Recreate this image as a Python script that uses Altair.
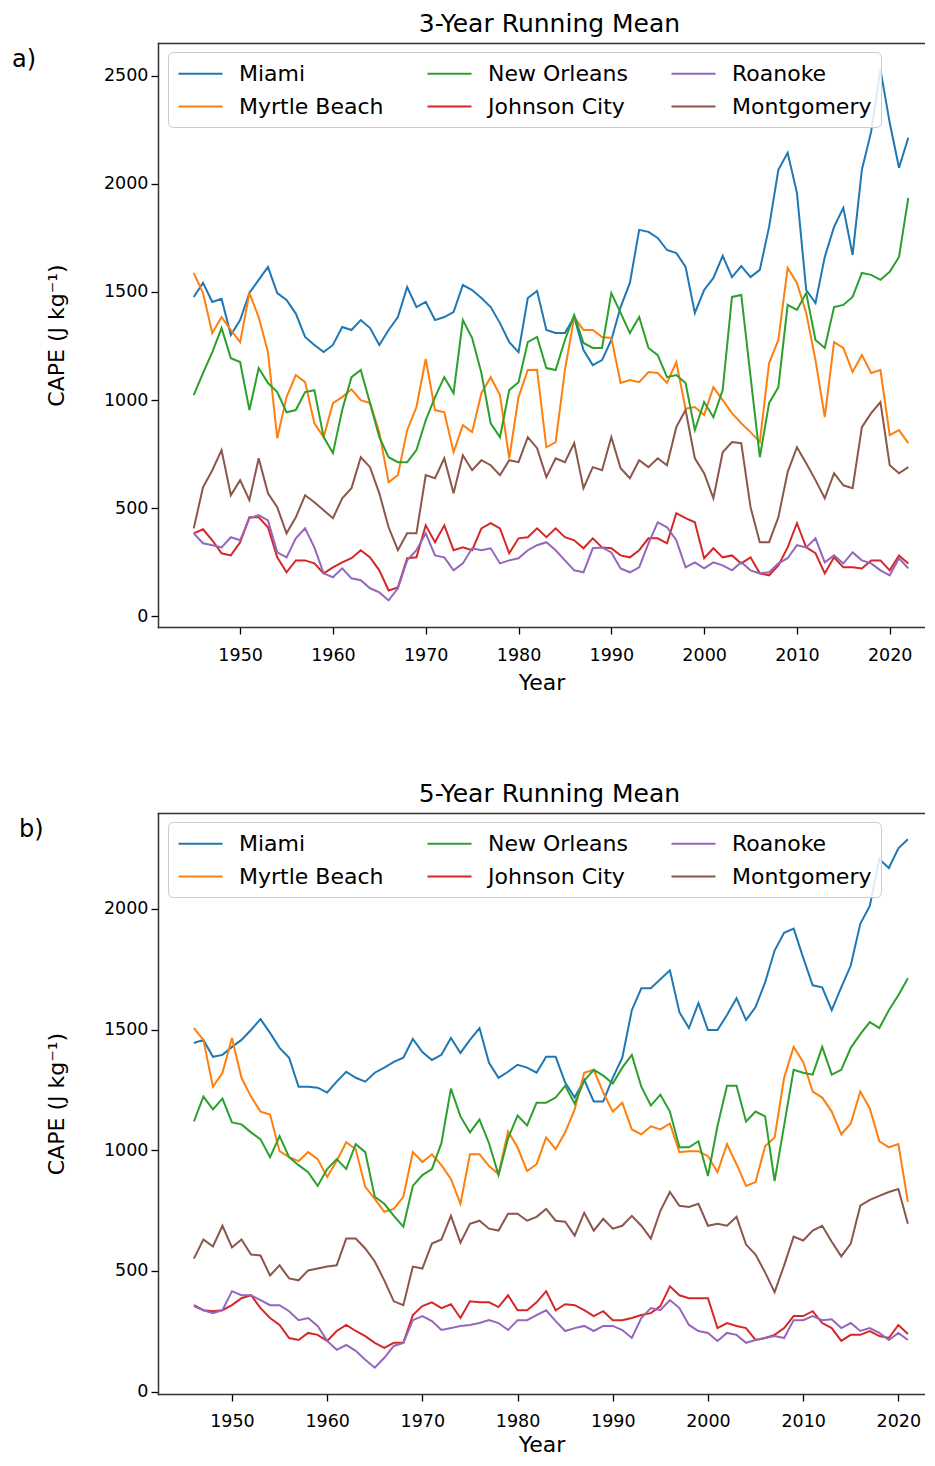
import altair as alt
import pandas as pd

FONT = "DejaVu Sans"

# ---------------- data ----------------
cities = ["Miami", "Myrtle Beach", "New Orleans", "Johnson City", "Roanoke", "Montgomery"]
legend_order = ["Miami", "New Orleans", "Roanoke", "Myrtle Beach", "Johnson City", "Montgomery"]
legend_colors = ["#1f77b4", "#2ca02c", "#9467bd", "#ff7f0e", "#d62728", "#8c564b"]

x_ticks = [1950, 1960, 1970, 1980, 1990, 2000, 2010, 2020]
y_ticks_a = [0, 500, 1000, 1500, 2000, 2500]
y_ticks_b = [0, 500, 1000, 1500, 2000]
panel_labels = ["a)", "b)"]
panel_titles = ["3-Year Running Mean", "5-Year Running Mean"]

years_a = list(range(1945, 2023))
years_b = list(range(1946, 2022))

miami_a = [1477, 1542, 1454, 1468, 1301, 1370, 1495, 1556, 1616, 1495,
           1463, 1400, 1292, 1255, 1222, 1255, 1338, 1324, 1370, 1333,
           1255, 1324, 1384, 1523, 1430, 1454, 1370, 1384, 1407, 1532,
           1509, 1472, 1430, 1356, 1268, 1222, 1472, 1505, 1324, 1310,
           1310, 1384, 1231, 1162, 1185, 1278, 1430, 1542, 1787, 1778,
           1750, 1694, 1680, 1616, 1403, 1509, 1565, 1667, 1569, 1620,
           1569, 1602, 1801, 2065, 2143, 1958, 1509, 1449, 1662, 1801,
           1889, 1671, 2065, 2241, 2528, 2282, 2074, 2213]
myrtle_a = [1588, 1495, 1310, 1384, 1324, 1268, 1495, 1384, 1222, 824,
            1014, 1116, 1083, 893, 829, 986, 1014, 1050, 1000, 986,
            850, 620, 653, 861, 968, 1190, 954, 944, 759, 884,
            852, 1032, 1106, 1023, 731, 1014, 1139, 1140, 782, 806,
            1139, 1384, 1324, 1324, 1292, 1287, 1079, 1093, 1083, 1130,
            1125, 1079, 1176, 960, 968, 931, 1060, 1000, 940, 893,
            852, 806, 1171, 1278, 1611, 1542, 1403, 1185, 921, 1268,
            1241, 1130, 1208, 1125, 1139, 838, 861, 801]
neworleans_a = [1023, 1125, 1222, 1333, 1194, 1176, 954, 1148, 1079, 1037,
                944, 954, 1037, 1046, 829, 755, 954, 1106, 1139, 986,
                829, 736, 713, 713, 769, 907, 1014, 1106, 1032, 1370,
                1287, 1125, 893, 829, 1046, 1083, 1268, 1292, 1148, 1139,
                1278, 1393, 1264, 1241, 1241, 1495, 1403, 1310, 1384, 1241,
                1208, 1106, 1116, 1079, 861, 991, 921, 1046, 1477, 1486,
                1110, 736, 986, 1060, 1440, 1417, 1495, 1278, 1241, 1430,
                1440, 1477, 1588, 1579, 1556, 1593, 1662, 1935]
johnson_a = [384, 403, 352, 292, 282, 343, 458, 458, 412, 273,
             204, 259, 259, 245, 199, 227, 250, 269, 306, 273,
             213, 120, 134, 269, 273, 421, 343, 421, 306, 319,
             306, 407, 431, 407, 292, 361, 366, 407, 366, 407,
             366, 352, 315, 361, 319, 315, 282, 273, 306, 361,
             361, 338, 477, 454, 435, 269, 315, 273, 282, 245,
             273, 199, 190, 236, 319, 431, 319, 292, 199, 273,
             227, 227, 222, 259, 259, 213, 282, 245]
roanoke_a = [384, 338, 329, 319, 366, 352, 454, 468, 444, 296,
             273, 361, 407, 319, 199, 181, 222, 176, 167, 130,
             111, 74, 130, 259, 306, 384, 282, 273, 213, 245,
             315, 306, 315, 245, 259, 269, 306, 329, 343, 306,
             259, 213, 204, 315, 319, 296, 222, 204, 227, 338,
             435, 412, 352, 227, 250, 222, 250, 236, 213, 250,
             213, 199, 204, 245, 269, 329, 319, 361, 250, 282,
             245, 296, 259, 245, 213, 190, 269, 222]
montgomery_a = [407, 597, 676, 769, 560, 630, 537, 731, 569, 505,
                384, 458, 560, 528, 491, 454, 546, 593, 736, 690,
                569, 412, 306, 384, 384, 653, 639, 731, 569, 745,
                676, 722, 699, 653, 722, 713, 829, 778, 644, 731,
                713, 801, 593, 690, 676, 829, 685, 639, 722, 690,
                731, 699, 875, 954, 731, 662, 546, 759, 806, 801,
                505, 343, 343, 458, 667, 782, 708, 630, 546, 662,
                606, 593, 875, 940, 991, 699, 662, 690]

miami_b = [1444, 1457, 1387, 1395, 1428, 1457, 1498, 1543, 1486, 1424,
           1383, 1263, 1263, 1259, 1239, 1284, 1325, 1300, 1284, 1321,
           1342, 1366, 1383, 1461, 1407, 1374, 1395, 1465, 1403, 1457,
           1506, 1362, 1300, 1325, 1354, 1342, 1321, 1387, 1387, 1280,
           1218, 1292, 1202, 1202, 1300, 1383, 1580, 1671, 1671, 1708,
           1745, 1572, 1506, 1609, 1498, 1498, 1560, 1630, 1539, 1593,
           1695, 1827, 1901, 1918, 1798, 1683, 1675, 1580, 1675, 1765,
           1938, 2012, 2206, 2169, 2251, 2288]
myrtle_b = [1506, 1457, 1263, 1321, 1465, 1300, 1222, 1160, 1148, 996,
            971, 955, 992, 963, 889, 955, 1033, 1004, 848, 798,
            745, 757, 807, 992, 951, 983, 938, 881, 778, 983,
            983, 934, 901, 1078, 1012, 914, 942, 1053, 1004, 1074,
            1169, 1321, 1333, 1239, 1160, 1197, 1086, 1066, 1099, 1086,
            1111, 992, 996, 996, 975, 909, 1025, 942, 852, 868,
            1016, 1053, 1300, 1428, 1366, 1243, 1218, 1160, 1066, 1111,
            1243, 1173, 1037, 1012, 1025, 786]
neworleans_b = [1119, 1222, 1169, 1214, 1115, 1107, 1074, 1045, 971, 1058,
                971, 938, 909, 852, 922, 963, 922, 1025, 992, 807,
                778, 728, 683, 852, 897, 922, 1029, 1255, 1140, 1074,
                1127, 1029, 897, 1049, 1144, 1103, 1197, 1197, 1218, 1267,
                1193, 1288, 1333, 1309, 1276, 1342, 1395, 1263, 1185, 1230,
                1160, 1012, 1012, 1037, 893, 1100, 1267, 1267, 1119, 1160,
                1140, 872, 1103, 1333, 1321, 1313, 1428, 1313, 1333, 1424,
                1481, 1531, 1506, 1580, 1642, 1712]
johnson_b = [358, 337, 333, 337, 358, 387, 399, 346, 305, 276,
             222, 214, 243, 235, 210, 251, 276, 251, 230, 202,
             181, 202, 202, 317, 354, 370, 346, 362, 305, 374,
             370, 370, 350, 399, 337, 337, 370, 416, 337, 362,
             358, 337, 313, 333, 296, 296, 305, 317, 325, 354,
             436, 399, 387, 387, 387, 263, 284, 272, 263, 214,
             222, 235, 263, 313, 313, 333, 284, 263, 210, 235,
             235, 251, 230, 222, 276, 239]
roanoke_b = [354, 337, 325, 337, 416, 399, 399, 379, 358, 358,
             333, 296, 305, 272, 210, 173, 193, 169, 132, 99,
             140, 189, 202, 296, 313, 292, 255, 263, 272, 276,
             284, 296, 284, 255, 296, 296, 317, 337, 292, 251,
             263, 272, 251, 272, 272, 255, 222, 305, 346, 337,
             379, 346, 276, 251, 243, 210, 243, 235, 202, 214,
             222, 230, 222, 296, 296, 313, 296, 300, 263, 284,
             251, 263, 243, 214, 243, 214]
montgomery_b = [551, 630, 601, 687, 597, 630, 568, 564, 481, 523,
                469, 461, 502, 510, 518, 523, 634, 634, 593, 539,
                461, 374, 358, 518, 510, 613, 630, 728, 617, 695,
                708, 675, 667, 737, 737, 708, 724, 757, 708, 704,
                646, 741, 667, 716, 675, 687, 728, 687, 634, 749,
                827, 770, 765, 778, 687, 695, 687, 724, 609, 568,
                494, 412, 523, 642, 626, 667, 687, 621, 560, 613,
                770, 794, 811, 827, 839, 695]

series_a = [miami_a, myrtle_a, neworleans_a, johnson_a, roanoke_a, montgomery_a]
series_b = [miami_b, myrtle_b, neworleans_b, johnson_b, roanoke_b, montgomery_b]

W = 767
SPINE = "#333333"


def make_df(years, series):
    rows = []
    for city, vals in zip(cities, series):
        for yr, v in zip(years, vals):
            rows.append({"year": yr, "cape": v, "city": city})
    return pd.DataFrame(rows)


def panel(years, series, title, label, label_x, xdom, ydom, yticks, height,
          x_label_pad, x_title_pad):
    df = make_df(years, series)
    xscale = alt.Scale(domain=xdom, nice=False, zero=False)
    legend = alt.Legend(
        title=None, orient="none", legendX=10, legendY=9,
        direction="horizontal", columns=3, columnPadding=39, rowPadding=9,
        symbolType="M-1,0H3", symbolSize=484, symbolStrokeWidth=2.2,
        labelOffset=37, labelFontSize=22, labelFont=FONT, labelColor="black",
        labelLimit=0, padding=9, strokeColor="#cccccc",
        fillColor="rgba(255,255,255,0.85)", cornerRadius=5,
    )
    lines = alt.Chart(df).mark_line(strokeWidth=2).encode(
        x=alt.X("year:Q", title="Year", scale=xscale,
                axis=alt.Axis(values=x_ticks, format="d",
                              labelPadding=x_label_pad, titlePadding=x_title_pad)),
        y=alt.Y("cape:Q", title="CAPE (J kg⁻¹)",
                scale=alt.Scale(domain=ydom, nice=False, zero=False),
                axis=alt.Axis(values=yticks, format="d")),
        color=alt.Color("city:N",
                        scale=alt.Scale(domain=legend_order, range=legend_colors),
                        legend=legend),
    )
    # top spine (matplotlib frame); the right spine is cut off in the reference
    top_spine = alt.Chart(pd.DataFrame({"year": [xdom[0]]})).mark_point(opacity=0).encode(
        x=alt.X("year:Q", scale=xscale,
                axis=alt.Axis(orient="top", labels=False, ticks=False, title=None,
                              domain=True)),
    )
    tag = alt.Chart(pd.DataFrame({"t": [label]})).mark_text(
        align="left", baseline="middle", fontSize=24, font=FONT, color="black"
    ).encode(text="t:N", x=alt.value(label_x), y=alt.value(17))
    return alt.layer(lines, top_spine, tag).resolve_axis(x="independent").properties(
        width=W, height=height,
        title=alt.Title(title, frame="group", dx=8),
    )


pa = panel(years_a, series_a, panel_titles[0], panel_labels[0], -146,
           [1941.15, 1941.15 + W / 9.28], [-49, 2651], y_ticks_a, 584, 12, 9)
pb = panel(years_b, series_b, panel_titles[1], panel_labels[1], -139,
           [1942.23, 1942.23 + W / 9.52], [-10, 2397], y_ticks_b, 581, 11, 5)

chart = alt.vconcat(pa, pb, spacing=186, bounds="flush").resolve_scale(
    color="independent"
).resolve_legend(color="independent").properties(
    padding={"left": 4, "top": 4, "right": 0, "bottom": 0}
).configure(font=FONT).configure_view(
    stroke=None
).configure_axis(
    labelFontSize=17.5, titleFontSize=22, labelColor="black", titleColor="black",
    tickColor="black", tickSize=7, tickWidth=1.3, grid=False,
    domain=True, domainColor=SPINE, domainWidth=1.5, domainCap="square",
    titleFontWeight="normal", labelFont=FONT, titleFont=FONT,
).configure_axisY(
    labelPadding=3, titlePadding=35
).configure_title(
    fontSize=25, fontWeight="normal", color="black", offset=6, anchor="middle", font=FONT
)

chart.save("out.html", embed_options={"renderer": "svg", "actions": False})
